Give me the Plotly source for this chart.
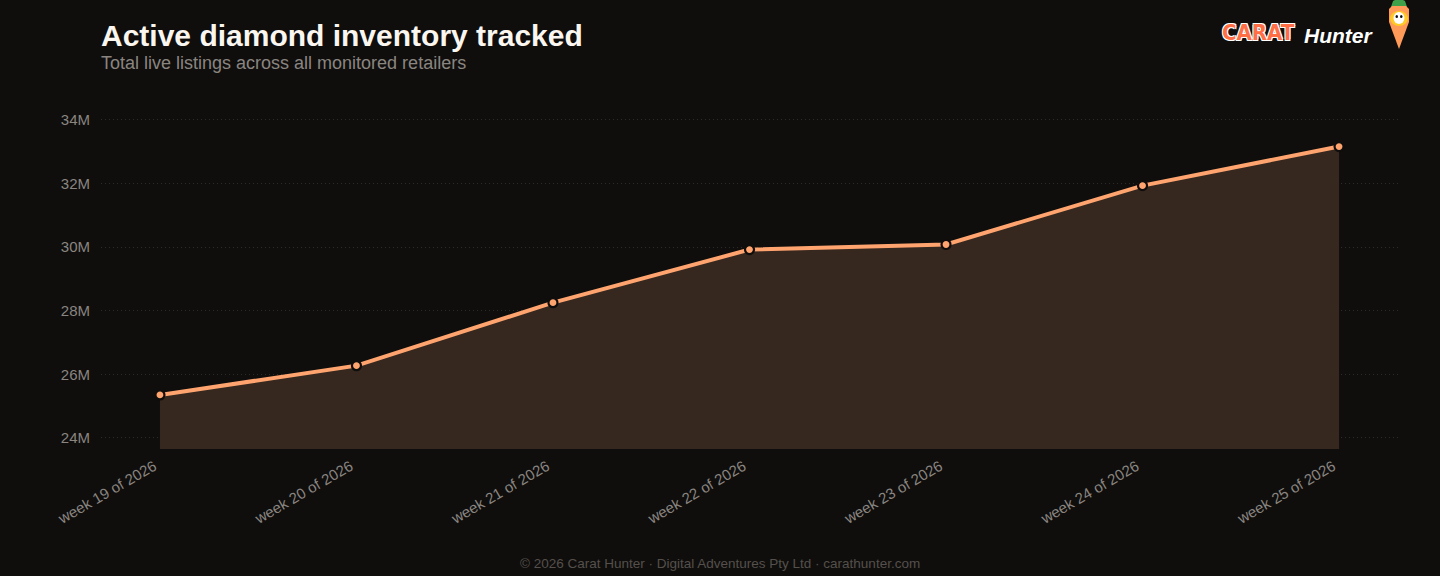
import plotly.graph_objects as go

weeks = ["week 19 of 2026", "week 20 of 2026", "week 21 of 2026", "week 22 of 2026",
         "week 23 of 2026", "week 24 of 2026", "week 25 of 2026"]
listings = [25.35e6, 26.27e6, 28.25e6, 29.92e6, 30.08e6, 31.93e6, 33.16e6]
ytick_vals = [24e6, 26e6, 28e6, 30e6, 32e6, 34e6]
ytick_text = ["24M", "26M", "28M", "30M", "32M", "34M"]

BG = "#0f0e0d"
ORANGE = "#ffa46e"

# plot area in pixels
ML, MR, MT, MB = 101, 42, 95, 127
W, H = 1440 - ML - MR, 576 - MT - MB


def px(x, y):
    return (x - ML) / W, (576 - y - MB) / H


def path(points):
    s = ""
    for i, (x, y) in enumerate(points):
        a, b = px(x, y)
        s += ("M " if i == 0 else " L ") + f"{a:.5f} {b:.5f}"
    return s + " Z"


fig = go.Figure()
fig.add_trace(go.Scatter(
    x=weeks, y=listings, mode="lines+markers",
    line=dict(color=ORANGE, width=4),
    fill="tozeroy", fillcolor="#37281f",
    marker=dict(size=9, color=ORANGE, line=dict(color=BG, width=2.2)),
    hoverinfo="skip", showlegend=False,
))

fig.update_layout(
    width=1440, height=576,
    paper_bgcolor=BG, plot_bgcolor=BG,
    margin=dict(l=ML, r=MR, t=MT, b=MB),
    font=dict(family="Liberation Sans, Arial, sans-serif", color="#8a8580"),
    xaxis=dict(range=[-0.3, 6.3], showgrid=False, zeroline=False, showline=False,
               tickangle=-30, tickfont=dict(size=15, color="#8a8580"), ticks="",
               ticklabelstandoff=5, ticklabelshift=-6, fixedrange=True),
    yaxis=dict(range=[23.65e6, 34.78e6], tickvals=ytick_vals, ticktext=ytick_text,
               showgrid=True, gridcolor="#2e2a27", griddash="1px,3px", gridwidth=1,
               zeroline=False, showline=False, ticks="", ticklabelstandoff=10,
               tickfont=dict(size=15, color="#8a8580"), fixedrange=True),
    annotations=[
        dict(text="<b>Active diamond inventory tracked</b>", xref="paper", yref="paper",
             x=0, y=1, xanchor="left", yanchor="bottom", yshift=41, xshift=-2,
             showarrow=False, font=dict(size=30, color="#fbf6ef")),
        dict(text="Total live listings across all monitored retailers", xref="paper", yref="paper",
             x=0, y=1, xanchor="left", yanchor="bottom", yshift=20, xshift=-2,
             showarrow=False, font=dict(size=18, color="#8a8580")),
        dict(text="© 2026 Carat Hunter · Digital Adventures Pty Ltd · carathunter.com",
             xref="paper", yref="paper", x=(720 - ML) / W, y=0, xanchor="center", yanchor="middle",
             yshift=-114, showarrow=False, font=dict(size=13.5, color="#55504b")),
        dict(text="<b>CARAT</b>", xref="paper", yref="paper", x=px(1297, 0)[0], y=px(0, 33)[1],
             xanchor="right", yanchor="middle", showarrow=False,
             font=dict(size=22, color="#ff6e45",
                       family="Liberation Sans Narrow, DejaVu Sans Condensed, sans-serif",
                       shadow="1px 1px 0 #fff, -1px -1px 0 #fff, 1px -1px 0 #fff, -1px 1px 0 #fff")),
        dict(text="<b><i>Hunter</i></b>", xref="paper", yref="paper", x=px(1302, 0)[0], y=px(0, 36)[1],
             xanchor="left", yanchor="middle", showarrow=False,
             font=dict(size=21, color="#ffffff", family="Liberation Sans")),
    ],
)

# carrot mascot
fig.add_shape(type="path", xref="paper", yref="paper",
              path=path([(1391, 7), (1393, 1), (1399, -2), (1405, 1), (1407, 7)]),
              fillcolor="#3fa04a", line=dict(width=0))
fig.add_shape(type="path", xref="paper", yref="paper",
              path=path([(1389, 9), (1392, 6), (1406, 6), (1409, 9), (1409, 22), (1399, 49), (1389, 22)]),
              fillcolor="#ff9a58", line=dict(width=0))
fig.add_shape(type="circle", xref="paper", yref="paper",
              x0=px(1390, 0)[0], x1=px(1408, 0)[0], y0=px(0, 26)[1], y1=px(0, 11)[1],
              fillcolor="#ffc928", line=dict(width=0))
fig.add_shape(type="circle", xref="paper", yref="paper",
              x0=px(1393.5, 0)[0], x1=px(1404.5, 0)[0], y0=px(0, 24)[1], y1=px(0, 12)[1],
              fillcolor="#ffffff", line=dict(width=0))
fig.add_shape(type="circle", xref="paper", yref="paper",
              x0=px(1395.5, 0)[0], x1=px(1398, 0)[0], y0=px(0, 18)[1], y1=px(0, 15)[1],
              fillcolor="#111111", line=dict(width=0))
fig.add_shape(type="circle", xref="paper", yref="paper",
              x0=px(1400, 0)[0], x1=px(1402.5, 0)[0], y0=px(0, 18)[1], y1=px(0, 15)[1],
              fillcolor="#111111", line=dict(width=0))

fig.write_html("out.html")
